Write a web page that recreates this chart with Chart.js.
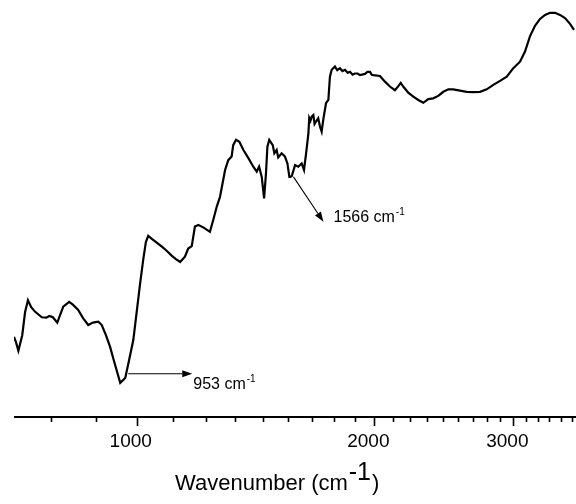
<!DOCTYPE html>
<html>
<head>
<meta charset="utf-8">
<script src="https://cdn.jsdelivr.net/npm/chart.js@4.4.0/dist/chart.umd.min.js"></script>
<style>
  html, body { margin: 0; padding: 0; background: #fff; }
  #wrap { width: 576px; height: 504px; }
</style>
</head>
<body>
<div id="wrap"><canvas id="spectrum" width="576" height="504"></canvas></div>
<script>
// IR spectrum: wavenumber (cm-1) and transmittance (%)
const wavenumbers = [
  699, 703, 708, 716, 722, 728, 735, 743, 758, 768, 775, 783, 793, 807, 821, 830, 843, 855,
  868, 880, 894, 903, 914, 925, 935, 943, 953, 967, 978, 990, 1010, 1019, 1027, 1034, 1046,
  1061, 1077, 1092, 1108, 1121, 1135, 1151, 1162, 1174, 1185, 1197, 1214, 1238, 1250, 1263,
  1275, 1294, 1306, 1319, 1325, 1336, 1349, 1365, 1385, 1405, 1419, 1429, 1440, 1450, 1458,
  1464, 1472, 1487, 1494, 1504, 1511, 1526, 1541, 1552, 1561, 1566, 1572, 1587, 1602, 1618,
  1629, 1639, 1650, 1654, 1660, 1666, 1674, 1680, 1687, 1698, 1707, 1715, 1723, 1737, 1749,
  1757, 1766, 1783, 1795, 1809, 1822, 1836, 1850, 1863, 1877, 1890, 1905, 1918, 1946, 1960,
  1975, 1985, 1994, 2033, 2063, 2093, 2124, 2145, 2160, 2176, 2208, 2241, 2274, 2307, 2341,
  2375, 2410, 2446, 2482, 2518, 2568, 2619, 2669, 2722, 2776, 2830, 2886, 2943, 3000, 3059,
  3104, 3150, 3196, 3243, 3291, 3339, 3388, 3438, 3488, 3540, 3581
];
const transmittance = [
  19.7, 18.4, 16.3, 20.1, 25.8, 28.7, 27.0, 25.9, 24.5, 24.4, 24.8, 24.5, 23.2, 27.1, 28.3, 27.6, 26.3, 24.3,
  22.6, 23.2, 23.4, 22.6, 20.1, 17.3, 14.0, 11.5, 8.4, 9.6, 14.0, 18.9, 32.9, 38.6, 43.0, 44.5, 43.7,
  42.8, 41.8, 40.8, 39.6, 38.8, 38.1, 39.4, 41.4, 42.0, 46.8, 47.2, 46.6, 45.5, 48.4, 51.7,
  54.1, 60.7, 63.1, 64.0, 66.8, 68.1, 67.6, 65.6, 63.6, 61.5, 60.3, 61.5, 59.0, 53.7, 59.9,
  66.4, 68.1, 66.8, 64.8, 65.6, 63.8, 64.8, 64.0, 62.3, 59.0, 59.0, 59.2, 61.9, 61.5, 62.3,
  60.7, 64.8, 69.7, 73.5, 72.8, 73.8, 74.2, 72.0, 72.6, 73.4, 71.3, 70.1, 73.0, 77.1, 77.9,
  83.6, 85.3, 86.1, 85.2, 85.7, 85.0, 85.3, 84.6, 84.8, 84.1, 84.4, 84.4, 84.0, 84.3, 84.8,
  84.8, 84.1, 84.0, 83.8, 82.4, 81.2, 80.3, 81.3, 82.1, 81.2, 79.7, 78.7, 77.9, 77.2, 78.1,
  78.3, 78.9, 79.9, 80.5, 80.5, 80.2, 79.9, 79.8, 79.9, 80.5, 81.6, 82.6, 83.6, 85.7, 87.3,
  89.8, 93.6, 96.1, 97.8, 98.8, 99.3, 99.3, 98.8, 98.0, 96.6, 95.1
];

// Axis ticks: labelled majors, with eight minor divisions between them
const majorTicks = [1000, 2000, 3000];
const majorLabels = ['1000', '2000', '3000'];
const minorTicks = [];
for (let k = 1; k <= 36; k++) {
  const v = k * 1000 / 9;
  if (k % 9 !== 0) minorTicks.push(v);
}

// Marked peaks
const peakPositions = [953, 1566];
const peakLabels = ['953 cm', '1566 cm'];

const X_MIN = 699, X_MAX = 3602;
const FONT = '"Liberation Sans", Arial, sans-serif';

function arrow(ctx, x1, y1, x2, y2) {
  const ang = Math.atan2(y2 - y1, x2 - x1);
  const len = 10, half = 3.5;
  const bx = x2 - len * Math.cos(ang), by = y2 - len * Math.sin(ang);
  ctx.beginPath();
  ctx.moveTo(x1, y1);
  ctx.lineTo(bx, by);
  ctx.lineWidth = 1.1;
  ctx.strokeStyle = '#000';
  ctx.stroke();
  ctx.beginPath();
  ctx.moveTo(x2, y2);
  ctx.lineTo(bx + half * Math.sin(ang), by - half * Math.cos(ang));
  ctx.lineTo(bx - half * Math.sin(ang), by + half * Math.cos(ang));
  ctx.closePath();
  ctx.fillStyle = '#000';
  ctx.fill();
}

function valueAt(w) {
  return transmittance[wavenumbers.indexOf(w)];
}

const decorations = {
  id: 'decorations',
  afterDraw(chart) {
    const ctx = chart.ctx;
    const xs = chart.scales.x, ys = chart.scales.y;
    const area = chart.chartArea;
    const yAxis = area.bottom;
    ctx.save();

    // axis line
    ctx.strokeStyle = '#000';
    ctx.lineWidth = 1.8;
    ctx.beginPath();
    ctx.moveTo(area.left, yAxis);
    ctx.lineTo(area.right, yAxis);
    ctx.stroke();

    // tick marks
    ctx.lineWidth = 1.6;
    minorTicks.forEach(v => {
      if (v < X_MIN || v > X_MAX) return;
      const px = Math.round(xs.getPixelForValue(v)) + 0.5;
      ctx.beginPath();
      ctx.moveTo(px, yAxis);
      ctx.lineTo(px, yAxis + 5);
      ctx.stroke();
    });
    majorTicks.forEach(v => {
      const px = Math.round(xs.getPixelForValue(v)) + 0.5;
      ctx.beginPath();
      ctx.moveTo(px, yAxis);
      ctx.lineTo(px, yAxis + 9);
      ctx.stroke();
    });

    // tick labels
    ctx.fillStyle = '#000';
    ctx.font = '19px ' + FONT;
    ctx.textAlign = 'center';
    ctx.textBaseline = 'alphabetic';
    majorTicks.forEach((v, i) => {
      ctx.fillText(majorLabels[i], xs.getPixelForValue(v) - 6, yAxis + 30);
    });

    // axis title with superscript
    ctx.textAlign = 'left';
    ctx.font = '22px ' + FONT;
    const base = 'Wavenumber (cm';
    const tx = 175, ty = 490;
    ctx.fillText(base, tx, ty);
    let w = ctx.measureText(base).width;
    ctx.font = '25px ' + FONT;
    ctx.fillText('-1', tx + w + 1, ty - 10);
    w += ctx.measureText('-1').width + 2;
    ctx.font = '22px ' + FONT;
    ctx.fillText(')', tx + w, ty);

    // peak annotations
    const p0x = xs.getPixelForValue(peakPositions[0]);
    const p0y = ys.getPixelForValue(valueAt(peakPositions[0]));
    arrow(ctx, p0x + 8, p0y - 9, p0x + 72, p0y - 9);
    const p1x = xs.getPixelForValue(peakPositions[1]);
    const p1y = ys.getPixelForValue(valueAt(peakPositions[1]));
    arrow(ctx, p1x + 3, p1y, p1x + 33, p1y + 45);

    const label = (text, x, y) => {
      ctx.font = '16px ' + FONT;
      ctx.fillText(text, x, y);
      const tw = ctx.measureText(text).width;
      ctx.font = '10px ' + FONT;
      ctx.fillText('-1', x + tw + 1, y - 7);
    };
    label(peakLabels[0], p0x + 73, p0y + 6);
    label(peakLabels[1], p1x + 43, p1y + 45);

    ctx.restore();
  }
};

new Chart(document.getElementById('spectrum'), {
  type: 'line',
  data: {
    datasets: [{
      data: wavenumbers.map((w, i) => ({ x: w, y: transmittance[i] })),
      borderColor: '#000',
      borderWidth: 2.2,
      pointRadius: 0,
      tension: 0,
      fill: false
    }]
  },
  options: {
    responsive: false,
    animation: false,
    layout: { padding: { left: 14, right: 0, top: 10, bottom: 87 } },
    scales: {
      x: { type: 'logarithmic', min: X_MIN, max: X_MAX, display: false },
      y: { type: 'linear', min: 0, max: 100, display: false }
    },
    plugins: { legend: { display: false }, tooltip: { enabled: false } }
  },
  plugins: [decorations]
});
</script>
</body>
</html>
